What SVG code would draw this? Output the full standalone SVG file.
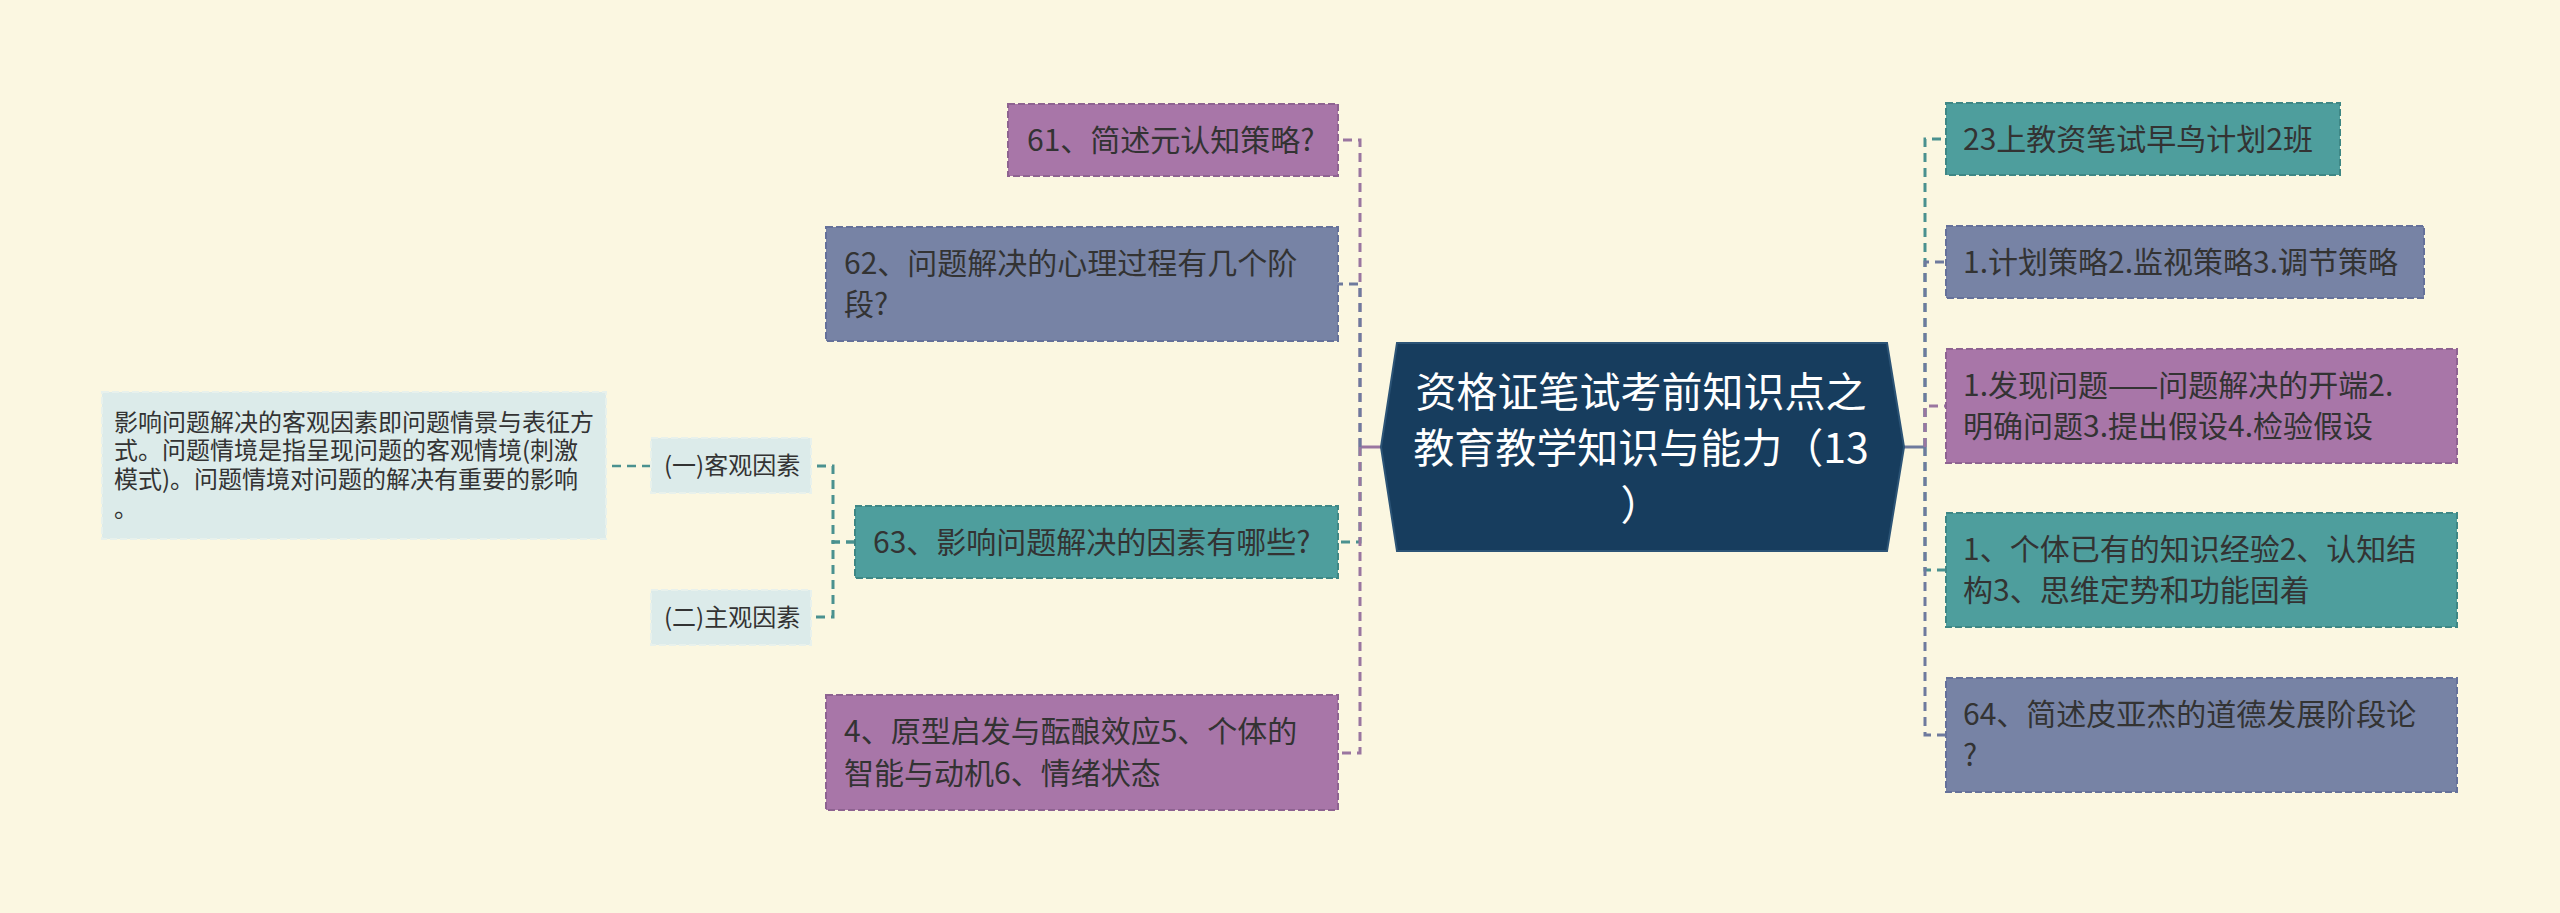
<svg xmlns="http://www.w3.org/2000/svg" width="2560" height="913" viewBox="0 0 2560 913">
<style>
.t{font-family:"Noto Sans CJK SC","Noto Sans",sans-serif;fill:#333333;font-size:30px}
.s{font-size:24px}
.c{font-family:"Noto Sans CJK SC","Noto Sans",sans-serif;fill:#ffffff;font-size:41px;text-anchor:middle}
.pu{fill:#a876a8;stroke:#8e6391;stroke-width:2;stroke-dasharray:7 3}
.sl{fill:#7783a5;stroke:#65719a;stroke-width:2;stroke-dasharray:7 3}
.te{fill:#4e9e9d;stroke:#3e8785;stroke-width:2;stroke-dasharray:7 3}
.li{fill:#dcebea;stroke:#e8f1ec;stroke-width:2;stroke-dasharray:7 3}
.ln{fill:none;stroke-width:3;stroke-dasharray:9 6}
.lp{stroke:#9a76a0}
.ls{stroke:#6e7a9d}
.lt{stroke:#4a918f}
</style>
<rect x="0" y="0" width="2560" height="913" fill="#fbf7e1"/>
<g id="connectors">
<line x1="1381" y1="447" x2="1360" y2="447" stroke="#9a76a0" stroke-width="3"/>
<line x1="1904" y1="447" x2="1925" y2="447" stroke="#6e7a9d" stroke-width="3"/>
<path class="ln lp" d="M1360,447 V140 H1338"/>
<path class="ln ls" d="M1360,447 V284 H1338"/>
<path class="ln lt" d="M1360,447 V542 H1338"/>
<path class="ln lp" d="M1360,447 V753 H1338"/>
<path class="ln lt" d="M1925,447 V139 H1946"/>
<path class="ln ls" d="M1925,447 V262 H1946"/>
<path class="ln lp" d="M1925,447 V406 H1946"/>
<path class="ln lt" d="M1925,447 V570 H1946"/>
<path class="ln ls" d="M1925,447 V735 H1946"/>
<path class="ln lt" d="M855,542 H833 V466 H811"/>
<path class="ln lt" d="M855,542 H833 V617 H811"/>
<path class="ln lt" style="stroke-width:2.5" d="M651,466 H606"/>
</g>
<g id="center">
<polygon points="1381,447 1397,343 1887,343 1904,447 1887,551 1397,551" fill="#173d5e" stroke="#2c5476" stroke-width="2"/>
<text class="c" x="1641" y="407">资格证笔试考前知识点之</text>
<text class="c" x="1641" y="463">教育教学知识与能力（13</text>
<text class="c" x="1641" y="520">）</text>
</g>
<g id="n61">
<rect class="pu" x="1008" y="104" width="330" height="72"/>
<text class="t" x="1027" y="151">61、简述元认知策略?</text>
</g>
<g id="n62">
<rect class="sl" x="826" y="227" width="512" height="114"/>
<text class="t" x="844" y="274">62、问题解决的心理过程有几个阶</text>
<text class="t" x="844" y="315">段?</text>
</g>
<g id="n63">
<rect class="te" x="855" y="506" width="483" height="72"/>
<text class="t" x="873" y="553">63、影响问题解决的因素有哪些?</text>
</g>
<g id="n4">
<rect class="pu" x="826" y="695" width="512" height="115"/>
<text class="t" x="844" y="742">4、原型启发与酝酿效应5、个体的</text>
<text class="t" x="844" y="784">智能与动机6、情绪状态</text>
</g>
<g id="obj">
<rect class="li" x="651" y="438" width="160" height="55"/>
<text class="t s" x="664" y="474">(一)客观因素</text>
</g>
<g id="subj">
<rect class="li" x="651" y="590" width="160" height="55"/>
<text class="t s" x="664" y="626">(二)主观因素</text>
</g>
<g id="objdesc">
<rect class="li" x="102" y="392" width="504" height="147"/>
<text class="t s" x="114" y="431">影响问题解决的客观因素即问题情景与表征方</text>
<text class="t s" x="114" y="459">式。问题情境是指呈现问题的客观情境(刺激</text>
<text class="t s" x="114" y="488">模式)。问题情境对问题的解决有重要的影响</text>
<text class="t s" x="114" y="517">。</text>
</g>
<g id="r1">
<rect class="te" x="1946" y="103" width="394" height="72"/>
<text class="t" x="1963" y="150">23上教资笔试早鸟计划2班</text>
</g>
<g id="r2">
<rect class="sl" x="1946" y="226" width="478" height="72"/>
<text class="t" x="1963" y="273">1.计划策略2.监视策略3.调节策略</text>
</g>
<g id="r3">
<rect class="pu" x="1946" y="349" width="511" height="114"/>
<text class="t" x="1963" y="396">1.发现问题——问题解决的开端2.</text>
<text class="t" x="1963" y="437">明确问题3.提出假设4.检验假设</text>
</g>
<g id="r4">
<rect class="te" x="1946" y="513" width="511" height="114"/>
<text class="t" x="1963" y="560">1、个体已有的知识经验2、认知结</text>
<text class="t" x="1963" y="601">构3、思维定势和功能固着</text>
</g>
<g id="r5">
<rect class="sl" x="1946" y="678" width="511" height="114"/>
<text class="t" x="1963" y="725">64、简述皮亚杰的道德发展阶段论</text>
<text class="t" x="1963" y="766">?</text>
</g>
</svg>
